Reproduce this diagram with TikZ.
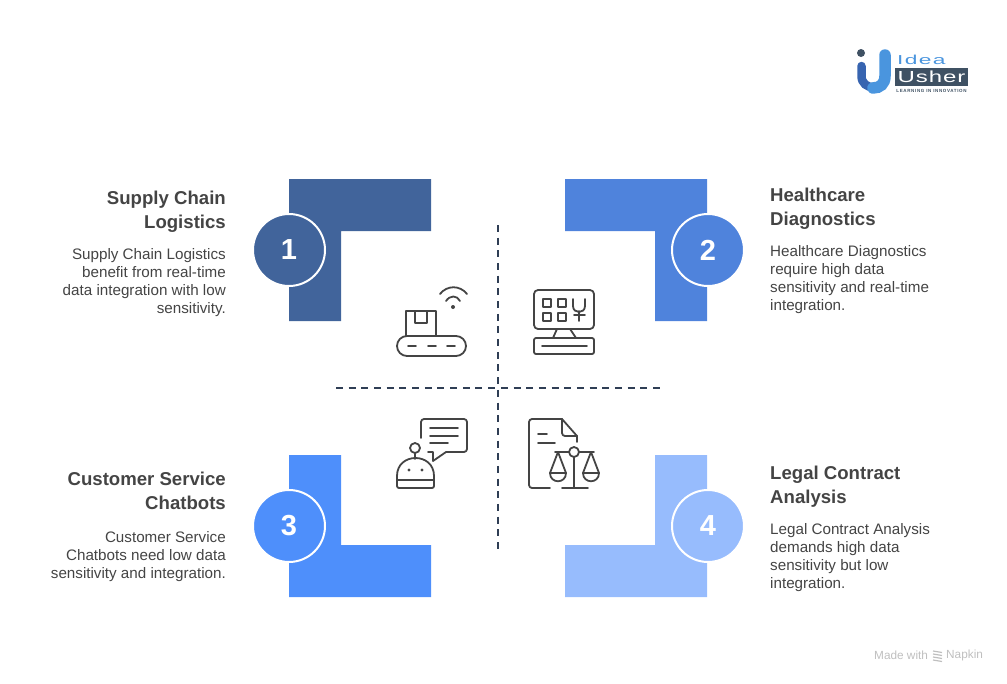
\documentclass[tikz,border=0pt]{standalone}
\usepackage{fontspec}
\usepackage{graphicx}
\setmainfont{Liberation Sans}
\definecolor{colA}{HTML}{41649B}
\definecolor{colB}{HTML}{4F83DC}
\definecolor{colC}{HTML}{4E8FFB}
\definecolor{colD}{HTML}{97BCFD}
\definecolor{ink}{HTML}{444444}
\definecolor{dashc}{HTML}{2F3E55}
\definecolor{logoblue}{HTML}{4A95DE}
\definecolor{logodark}{HTML}{3F5163}
\begin{document}
\begin{tikzpicture}[
    x=1pt,y=-1pt,
    % define styles
    badge/.style={
        draw=white,
        circle,
        line width=2pt,
        minimum size=72pt,
        inner sep=0pt,
        text=white,
        font=\fontsize{29}{29}\selectfont\bfseries
    },
    headr/.style={
        anchor=north east,
        align=right,
        inner sep=0pt,
        text=ink,
        font=\fontsize{18.6}{24}\selectfont\bfseries
    },
    headl/.style={headr,anchor=north west,align=left},
    descr/.style={
        anchor=north east,
        align=right,
        inner sep=0pt,
        text=ink,
        font=\fontsize{15.2}{18}\selectfont
    },
    descl/.style={descr,anchor=north west,align=left},
    icon/.style={
        draw=ink,
        line width=1.8pt,
        line cap=round,
        line join=round
    },
    cross/.style={
        draw=dashc,
        line width=1.6pt,
        dash pattern=on 7pt off 5.68pt
    }
]
\useasboundingbox (0,0) rectangle (1007,683);

% Corner shapes
\fill[colA] (289,179) -- (431,179) -- (431,231) -- (341,231) -- (341,321) -- (289,321) -- cycle;
\fill[colB] (565,179) -- (707,179) -- (707,321) -- (655,321) -- (655,231) -- (565,231) -- cycle;
\fill[colC] (289,455) -- (341,455) -- (341,545) -- (431,545) -- (431,597) -- (289,597) -- cycle;
\fill[colD] (655,455) -- (707,455) -- (707,597) -- (565,597) -- (565,545) -- (655,545) -- cycle;

% Numbers
\node[badge,fill=colA] at (289,250) (one) {1};
\node[badge,fill=colB] at (708,250) (two) {2};
\node[badge,fill=colC] at (289,526) (three) {3};
\node[badge,fill=colD] at (708,526) (four) {4};

% Left hand side texts
\node[headr] at (226,190.5) (supply) {Supply Chain\\Logistics};
\node[descr] at (226,248) (supplytxt) {Supply Chain Logistics\\benefit from real-time\\data integration with low\\sensitivity.};
\node[headr] at (226,471.5) (chat) {Customer Service\\Chatbots};
\node[descr] at (226,531) (chattxt) {Customer Service\\Chatbots need low data\\sensitivity and integration.};
% Right hand side texts
\node[headl] at (770,187.5) (health) {Healthcare\\Diagnostics};
\node[descl] at (770,245) (healthtxt) {Healthcare Diagnostics\\require high data\\sensitivity and real-time\\integration.};
\node[headl] at (770,465.5) (legal) {Legal Contract\\Analysis};
\node[descl] at (770,523) (legaltxt) {Legal Contract Analysis\\demands high data\\sensitivity but low\\integration.};

% Dashed cross
\coordinate (top) at (498,225);
\coordinate (bot) at (498,549);
\coordinate (lft) at (336,388);
\coordinate (rgt) at (660,388);
\draw[cross] (top) -- (bot);
\draw[cross] (lft) -- (rgt);

% Conveyor
\draw[icon] (406,336) -- (406,311) -- (436,311) -- (436,336);
\draw[icon] (415,311) -- (415,323) -- (427,323) -- (427,311);
\draw[icon,rounded corners=10pt] (397,336) rectangle (466,356);
\foreach \x in {408,428,447} \draw[icon] (\x,346) -- +(8,0);
\draw[icon] (440,294) .. controls (447,285) and (460,285) .. (467,294);
\draw[icon] (446,301) .. controls (450,295) and (457,295) .. (460,301);
\fill[ink] (453,307) circle (2pt);

% Monitor
\draw[icon,rounded corners=4pt] (534,290) rectangle (594,329);
\draw[icon,rounded corners=2pt] (534,338) rectangle (594,354);
\draw[icon] (557,329) -- (553,338);
\draw[icon] (570,329) -- (576,338);
\draw[icon] (542,346) -- (587,346);
\foreach \x in {543,558} \foreach \y in {299,313}
    \draw[icon,line width=1.5pt] (\x,\y) rectangle +(8,8);
\draw[icon] (573,299) -- (573,306) .. controls (573,314) and (585,314) .. (585,306) -- (585,299);
\draw[icon] (579,311) -- (579,321);
\draw[icon] (574,315) -- (585,315);

% Chat robot
\draw[icon,rounded corners=3pt] (421,438) -- (421,419) -- (467,419) -- (467,452) -- (446,452);
\draw[icon] (446,452) -- (433,461) -- (433,452) -- (428,452);
\draw[icon] (430,428) -- (458,428);
\draw[icon] (430,436) -- (458,436);
\draw[icon] (430,443) -- (448,443);
\draw[icon] (415,448) circle (5pt);
\draw[icon] (415,453) -- (415,459);
\draw[icon,rounded corners=2pt] (397,478) .. controls (397,452) and (434,452) .. (434,478) -- (434,488) -- (397,488) -- cycle;
\draw[icon] (397,480) -- (434,480);
\fill[ink] (409,470) circle (1.6pt) (422,470) circle (1.6pt);

% Document with balance
\draw[icon,rounded corners=3pt] (550,488) -- (529,488) -- (529,419) -- (562,419);
\draw[icon] (562,419) -- (577,436) -- (577,442);
\draw[icon,rounded corners=3pt] (562,419) -- (562,436) -- (577,436);
\draw[icon] (538,434) -- (547,434);
\draw[icon] (538,443) -- (555,443);
\draw[icon] (574,452) circle (5pt);
\draw[icon] (555,452) -- (569,452);
\draw[icon] (579,452) -- (594,452);
\draw[icon] (574,457) -- (574,488);
\draw[icon] (562,488) -- (588,488);
\draw[icon] (558,452) -- (550,473) .. controls (550,484) and (566,484) .. (566,473) -- cycle;
\draw[icon] (550,473) -- (566,473);
\draw[icon] (591,452) -- (583,473) .. controls (583,484) and (599,484) .. (599,473) -- cycle;
\draw[icon] (583,473) -- (599,473);

% Logo
\fill[logodark] (861,53) circle (4pt);
\draw[color=colC!70!black,line width=8.5pt,line cap=round] (861.5,66) -- (861.5,76) .. controls (861.5,91) and (885,91) .. (885,76);
\draw[logoblue,line width=11.5pt,line cap=round] (885,55) -- (885,76) .. controls (885,84) and (880,88) .. (873,88);
\node[inner sep=0pt,anchor=west,text=logoblue,font=\fontsize{13}{13}\selectfont] at (897,59.5) (idea) {\scalebox{1.75}[1]{\addfontfeature{LetterSpace=6}Idea}};
\node[fill=logodark,text=white,inner sep=0pt,minimum width=73pt,minimum height=18pt,font=\fontsize{16}{16}\selectfont] at (931.5,77) (usher) {\scalebox{1.5}[1]{\addfontfeature{LetterSpace=4}Usher}};
\node[inner sep=0pt,text=logodark,font=\fontsize{4.5}{4.5}\selectfont\bfseries] at (931.5,90.5) (tagline) {\addfontfeature{LetterSpace=14}LEARNING IN INNOVATION};

% Watermark
\node[inner sep=0pt,anchor=west,text=black!25,font=\fontsize{11.8}{11.8}\selectfont] at (874,655.5) (made) {Made with};
\node[inner sep=0pt,anchor=west,text=black!25,font=\fontsize{11.8}{11.8}\selectfont] at (946,655.5) (napkin) {Napkin};
\foreach \y in {651,654,657,660} \draw[black!25,line width=1.2pt] (933,\y) -- (942,\y+1.5);
\end{tikzpicture}
\end{document}
